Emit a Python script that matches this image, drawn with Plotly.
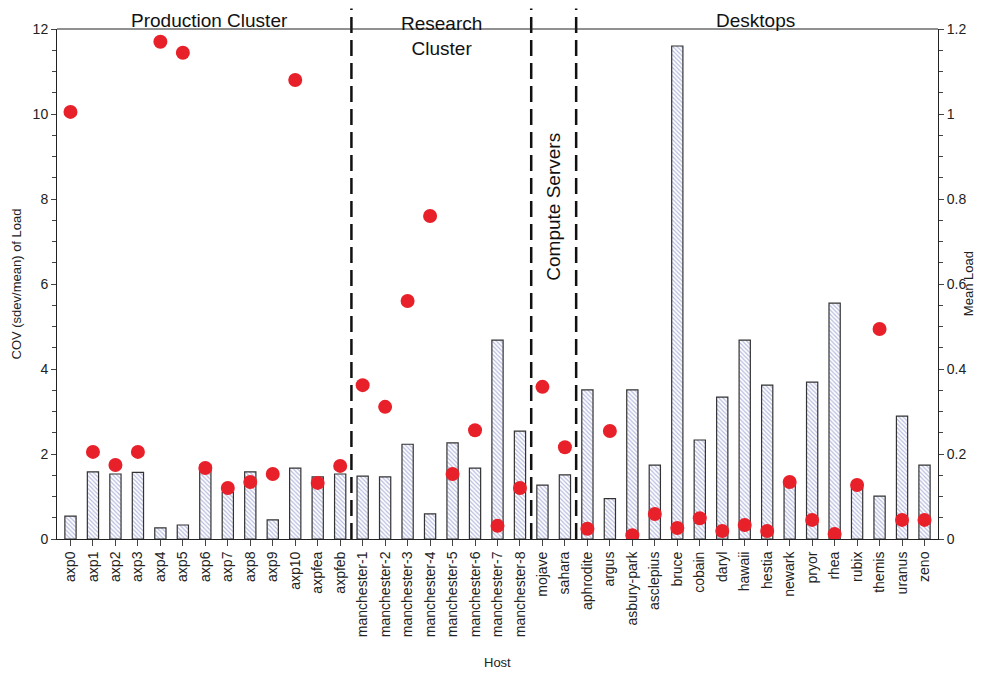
import plotly.graph_objects as go

hosts = ["axp0","axp1","axp2","axp3","axp4","axp5","axp6","axp7","axp8","axp9","axp10","axpfea","axpfeb",
         "manchester-1","manchester-2","manchester-3","manchester-4","manchester-5","manchester-6","manchester-7","manchester-8",
         "mojave","sahara","aphrodite","argus","asbury-park","asclepius","bruce","cobain","daryl","hawaii","hestia",
         "newark","pryor","rhea","rubix","themis","uranus","zeno"]
cov = [0.54,1.58,1.53,1.57,0.26,0.33,1.74,1.1,1.58,0.45,1.67,1.46,1.53,
       1.48,1.46,2.23,0.59,2.26,1.67,4.68,2.54,
       1.27,1.51,3.51,0.95,3.51,1.74,11.6,2.33,3.34,4.68,3.62,
       1.34,3.69,5.55,1.2,1.01,2.89,1.74]
mean_load = [1.005,0.205,0.174,0.205,1.17,1.144,0.167,0.12,0.134,0.153,1.08,0.132,0.172,
             0.362,0.311,0.56,0.76,0.153,0.256,0.031,0.12,
             0.358,0.216,0.024,0.254,0.009,0.059,0.026,0.049,0.019,0.033,0.019,
             0.134,0.045,0.012,0.127,0.494,0.045,0.045]
separators = [12.5, 20.5, 22.5]

fig = go.Figure()
fig.add_trace(go.Bar(x=list(range(len(hosts))), y=cov, width=0.5,
                     marker=dict(color="white", line=dict(color="#333", width=1.2),
                                 pattern=dict(shape="\\", fgcolor="#7078c0", bgcolor="white", size=3, solidity=0.4)),
                     showlegend=False))
fig.add_trace(go.Scatter(x=list(range(len(hosts))), y=mean_load, yaxis="y2", mode="markers",
                         marker=dict(color="#e8202a", size=14), showlegend=False))

for s in separators:
    fig.add_shape(type="line", x0=s, x1=s, xref="x", y0=0, y1=1.04, yref="paper",
                  line=dict(color="#111", width=2.5, dash="16px,7px"))

fs = 19
fig.add_annotation(x=6.2, y=1.041, yref="paper", text="Production Cluster", showarrow=False,
                   yanchor="top", font=dict(size=fs, color="#111"))
fig.add_annotation(x=16.5, y=1.036, yref="paper", text="Research<br>Cluster", showarrow=False,
                   yanchor="top", font=dict(size=fs, color="#111"))
fig.add_annotation(x=21.5, y=0.80, yref="paper", text="Compute Servers", showarrow=False,
                   textangle=-90, font=dict(size=fs, color="#111"))
fig.add_annotation(x=30.5, y=1.041, yref="paper", text="Desktops", showarrow=False,
                   yanchor="top", font=dict(size=fs, color="#111"))
fig.add_annotation(x=1.045, xref="paper", y=0.5, yref="paper", text="Mean Load", showarrow=False,
                   textangle=-90, font=dict(size=13, color="#222"))
fig.add_annotation(x=0.5, xref="paper", y=-0.26, yref="paper", text="Host", showarrow=False,
                   font=dict(size=13, color="#222"))

fig.update_layout(
    width=976, height=666, margin=dict(l=49, r=46, t=21, b=135),
    plot_bgcolor="white", paper_bgcolor="white",
    font=dict(family="Liberation Sans, Arial", size=13, color="#222"),
    xaxis=dict(tickmode="array", tickvals=list(range(len(hosts))), ticktext=hosts, tickangle=-90,
               range=[-0.6, len(hosts)-0.4], showline=True, linecolor="#222", mirror=False,
               ticks="outside", ticklen=6, tickfont=dict(size=14), automargin=False),
    yaxis=dict(range=[0, 12], dtick=2, showline=True, linecolor="#222", ticks="outside",
               showgrid=False, zeroline=False, minor=dict(ticks="outside", ticklen=4, dtick=0.5),
               title=dict(text="COV (sdev/mean) of Load", font=dict(size=13), standoff=8),
               tickfont=dict(size=14), automargin=False),
    yaxis2=dict(range=[0, 1.2], dtick=0.2, overlaying="y", side="right", showline=True, linecolor="#222",
                ticks="outside", showgrid=False, zeroline=False, tickformat="~g",
                minor=dict(ticks="outside", ticklen=4, dtick=0.05),
                tickfont=dict(size=14), automargin=False),
)
fig.add_shape(type="line", xref="paper", yref="paper", x0=0, x1=1, y0=1, y1=1, line=dict(color="#222", width=1))
fig.write_html("out.html")
